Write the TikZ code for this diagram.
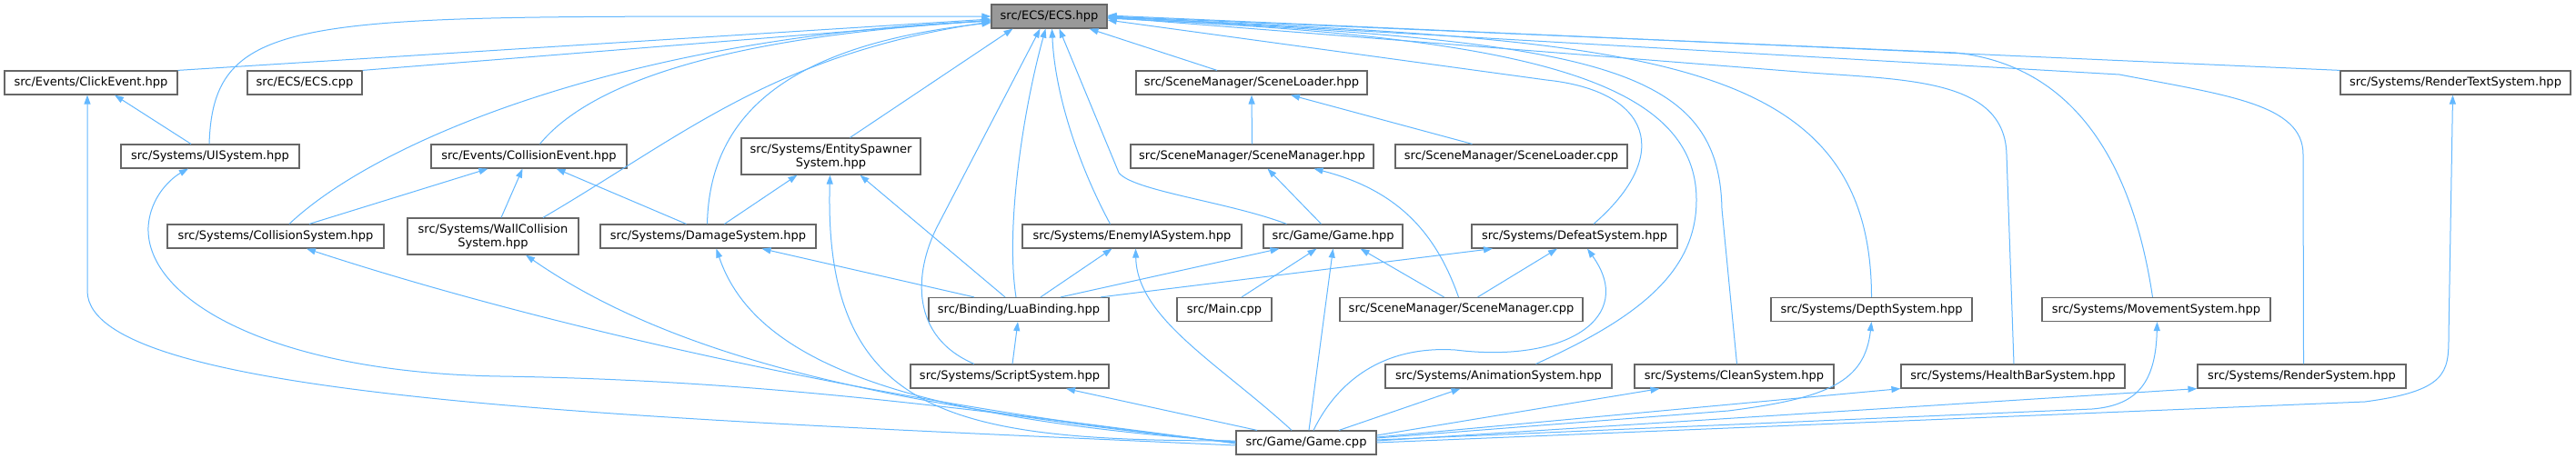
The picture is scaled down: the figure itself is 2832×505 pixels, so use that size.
\documentclass[tikz,border=0pt]{standalone}
\usepackage{fontspec}
\setmainfont{DejaVu Sans}
\usepackage{xcolor}
\usepackage{tikz}
\usetikzlibrary{arrows.meta}
\definecolor{edgeblue}{HTML}{63B8FF}
\definecolor{boxgray}{HTML}{666666}
\definecolor{rootgray}{HTML}{999999}

\begin{document}
\begin{tikzpicture}[
    x=1pt, y=-1pt,
    every node/.style={font=\fontsize{13}{15}\selectfont},
    filebox/.style={draw=boxgray, line width=1.2pt, fill=white, inner xsep=2pt, inner ysep=2pt, minimum height=26pt, align=center},
    rootbox/.style={filebox, fill=rootgray},
    incl/.style={draw=edgeblue, line width=1pt, -{Triangle[length=10pt, width=7pt]}}
]
\path[use as bounding box, fill=white] (0,0) rectangle (2832,505);

\node[rootbox, minimum width=127pt] (ecs) at (1153.5,18) {src/ECS/ECS.hpp};
\node[filebox, minimum width=190pt] (click) at (100,91) {src/Events/ClickEvent.hpp};
\node[filebox, minimum width=126pt] (ecscpp) at (335,91) {src/ECS/ECS.cpp};
\node[filebox, minimum width=254pt] (loaderh) at (1376,91) {src/SceneManager/SceneLoader.hpp};
\node[filebox, minimum width=253pt] (rtext) at (2699.5,91) {src/Systems/RenderTextSystem.hpp};
\node[filebox, minimum width=196pt] (ui) at (231,172) {src/Systems/UISystem.hpp};
\node[filebox, minimum width=215pt] (colev) at (581.5,172) {src/Events/CollisionEvent.hpp};
\node[filebox, minimum width=197pt, minimum height=40pt] (spawner) at (913.5,172) {src/Systems/EntitySpawner\\System.hpp};
\node[filebox, minimum width=267pt] (managerh) at (1376.5,172) {src/SceneManager/SceneManager.hpp};
\node[filebox, minimum width=255pt] (loadercpp) at (1661.5,172) {src/SceneManager/SceneLoader.cpp};
\node[filebox, minimum width=238pt] (colsys) at (303,260) {src/Systems/CollisionSystem.hpp};
\node[filebox, minimum width=188pt, minimum height=40pt] (wall) at (542,260) {src/Systems/WallCollision\\System.hpp};
\node[filebox, minimum width=237pt] (damage) at (778.5,260) {src/Systems/DamageSystem.hpp};
\node[filebox, minimum width=241pt] (enemy) at (1244.5,260) {src/Systems/EnemyIASystem.hpp};
\node[filebox, minimum width=153pt] (gameh) at (1465.5,260) {src/Game/Game.hpp};
\node[filebox, minimum width=226pt] (defeat) at (1731,260) {src/Systems/DefeatSystem.hpp};
\node[filebox, minimum width=198pt] (lua) at (1120,340.5) {src/Binding/LuaBinding.hpp};
\node[filebox, minimum width=104pt] (main) at (1346,340.5) {src/Main.cpp};
\node[filebox, minimum width=267pt] (managercpp) at (1606.5,340.5) {src/SceneManager/SceneManager.cpp};
\node[filebox, minimum width=221pt] (depth) at (2057.5,340.5) {src/Systems/DepthSystem.hpp};
\node[filebox, minimum width=251pt] (movement) at (2370.5,340.5) {src/Systems/MovementSystem.hpp};
\node[filebox, minimum width=218pt] (script) at (1110,414) {src/Systems/ScriptSystem.hpp};
\node[filebox, minimum width=249pt] (anim) at (1647.5,414) {src/Systems/AnimationSystem.hpp};
\node[filebox, minimum width=219pt] (clean) at (1906.5,414) {src/Systems/CleanSystem.hpp};
\node[filebox, minimum width=246pt] (health) at (2213,414) {src/Systems/HealthBarSystem.hpp};
\node[filebox, minimum width=229pt] (render) at (2530.5,414) {src/Systems/RenderSystem.hpp};
\node[filebox, minimum width=154pt] (gamecpp) at (1436,487) {src/Game/Game.cpp};

\draw[incl] (click.north east) -- ([yshift=-3pt]ecs.west);
\draw[incl] (ecscpp.north east) -- ([yshift=-4pt]ecs.west);
\draw[incl] ([xshift=-1pt]ui.north) .. controls (235,0) and (350,20) .. (ecs.west);
\draw[incl] ([xshift=15pt]colsys.north) .. controls (420,150) and (700,40) .. ([yshift=-5pt]ecs.west);
\draw[incl] ([xshift=12pt]colev.north) .. controls (650,90) and (800,40) .. ([yshift=-5pt]ecs.west);
\draw[incl] ([xshift=55pt]wall.north) .. controls (750,150) and (850,60) .. ([yshift=-6pt]ecs.west);
\draw[incl] ([xshift=-1pt]damage.north) .. controls (780,130) and (860,50) .. ([yshift=-7pt]ecs.west);
\draw[incl] ([xshift=21pt]spawner.north) -- ([xshift=-40pt]ecs.south);
\draw[incl] ([xshift=-39pt]script.north) .. controls (1000,370) and (1005,300) .. (1030,250) -- ([xshift=-10pt]ecs.south);
\draw[incl] ([xshift=-3pt]lua.north) .. controls (1105,250) and (1125,120) .. ([xshift=-4pt]ecs.south);
\draw[incl] ([xshift=-24pt]enemy.north) .. controls (1190,190) and (1160,110) .. ([xshift=3pt]ecs.south);
\draw[incl] ([xshift=-51pt]gameh.north) .. controls (1350,222) and (1245,210) .. (1230,190) -- ([xshift=11pt]ecs.south);
\draw[incl] ([xshift=-38pt]loaderh.north) -- ([xshift=44pt]ecs.south);
\draw[incl] ([xshift=21pt]defeat.north) .. controls (1840,170) and (1815,100) .. (1700,88) -- ([yshift=-4pt]ecs.east);
\draw[incl] ([xshift=41pt]anim.north) .. controls (1800,350) and (1865,300) .. (1865,220) .. controls (1865,80) and (1650,40) .. ([yshift=-2pt]ecs.east);
\draw[incl] ([xshift=3pt]clean.north) -- (1893,230) .. controls (1890,70) and (1750,45) .. ([yshift=-2pt]ecs.east);
\draw[incl] (depth.north) .. controls (2057,55) and (1800,45) .. ([yshift=-1pt]ecs.east);
\draw[incl] ([xshift=1pt]health.north) -- (2206,170) .. controls (2204,88) and (2100,88) .. (1990,80) -- ([yshift=-1pt]ecs.east);
\draw[incl] ([xshift=-4pt]movement.north) .. controls (2340,150) and (2260,70) .. (2150,58) -- (ecs.east);
\draw[incl] ([xshift=2pt]render.north) -- (2532,170) .. controls (2532,115) and (2450,105) .. (2330,82) -- (ecs.east);
\draw[incl] (rtext.north west) -- ([yshift=1pt]ecs.east);

\draw[incl] ([xshift=-21pt]ui.north) -- ([xshift=26pt]click.south);
\draw[incl] ([yshift=-3pt]gamecpp.west) .. controls (700,460) and (96,440) .. (96,320) -- ([xshift=-4pt]click.south);
\draw[incl] ([yshift=-1pt]gamecpp.west) .. controls (1000,440) and (800,418) .. (550,414) .. controls (300,410) and (160,330) .. (163,250) .. controls (165,215) and (190,195) .. ([xshift=-24pt]ui.south);
\draw[incl] ([xshift=37pt]colsys.north) -- ([xshift=-45pt]colev.south);
\draw[incl] ([xshift=9pt]wall.north) -- ([xshift=-7pt]colev.south);
\draw[incl] ([xshift=-24pt]damage.north) -- ([xshift=30pt]colev.south);
\draw[incl] ([xshift=18pt]damage.north) -- ([xshift=-37pt]spawner.south);
\draw[incl] ([xshift=-15pt]lua.north) -- ([xshift=32pt]spawner.south);
\draw[incl] ([yshift=2pt]gamecpp.west) .. controls (1050,485) and (905,460) .. ([xshift=-1pt]spawner.south);
\draw[incl] (gamecpp.west) .. controls (1000,450) and (600,360) .. ([xshift=34pt]colsys.south);
\draw[incl] (gamecpp.west) .. controls (1000,450) and (750,400) .. ([xshift=36pt]wall.south);
\draw[incl] ([yshift=1pt]gamecpp.west) .. controls (1000,460) and (830,400) .. ([xshift=9pt]damage.south);
\draw[incl] ([xshift=-49pt]lua.north) -- ([xshift=59pt]damage.south);
\draw[incl] ([xshift=3pt]script.north) -- ([xshift=-1pt]lua.south);
\draw[incl] ([xshift=-54pt]gamecpp.north) -- ([xshift=62pt]script.south);
\draw[incl] ([xshift=24pt]lua.north) -- ([xshift=-22pt]enemy.south);
\draw[incl] ([xshift=-16pt]gamecpp.north) .. controls (1340,400) and (1250,350) .. ([xshift=4pt]enemy.south);
\draw[incl] ([xshift=46pt]lua.north) -- ([xshift=-59pt]gameh.south);
\draw[incl] ([xshift=19pt]main.north) -- ([xshift=-18pt]gameh.south);
\draw[incl] ([xshift=3pt]gamecpp.north) -- (gameh.south);
\draw[incl] ([xshift=-19pt]managercpp.north) -- ([xshift=30pt]gameh.south);
\draw[incl] ([xshift=-13pt]gameh.north) -- ([xshift=17pt]managerh.south);
\draw[incl] ([xshift=-3pt]managercpp.north) .. controls (1580,260) and (1540,210) .. ([xshift=68pt]managerh.south);
\draw[incl] (managerh.north) -- (loaderh.south);
\draw[incl] ([xshift=-43pt]loadercpp.north) -- ([xshift=43pt]loaderh.south);
\draw[incl] ([xshift=90pt]lua.north) -- ([xshift=-90pt]defeat.south);
\draw[incl] ([xshift=18pt]managercpp.north) -- ([xshift=-19pt]defeat.south);
\draw[incl] ([xshift=8pt]gamecpp.north) .. controls (1470,420) and (1520,380) .. (1600,385) .. controls (1720,400) and (1800,350) .. ([xshift=14pt]defeat.south);
\draw[incl] ([xshift=36pt]gamecpp.north) -- ([xshift=-42pt]anim.south);
\draw[incl] ([yshift=8pt]gamecpp.east) -- ([xshift=-82pt]clean.south);
\draw[incl] ([yshift=6pt]gamecpp.east) -- (health.south west);
\draw[incl] ([yshift=5pt]gamecpp.east) -- (1900,452) .. controls (2010,438) and (2050,420) .. (depth.south);
\draw[incl] ([yshift=3pt]gamecpp.east) -- (2300,450) .. controls (2350,446) and (2370,420) .. ([xshift=1pt]movement.south);
\draw[incl] ([yshift=2pt]gamecpp.east) -- (render.south west);
\draw[incl] (gamecpp.east) -- (2600,442) .. controls (2690,430) and (2692,410) .. (2692,370) -- ([xshift=-3pt]rtext.south);
\end{tikzpicture}
\end{document}
